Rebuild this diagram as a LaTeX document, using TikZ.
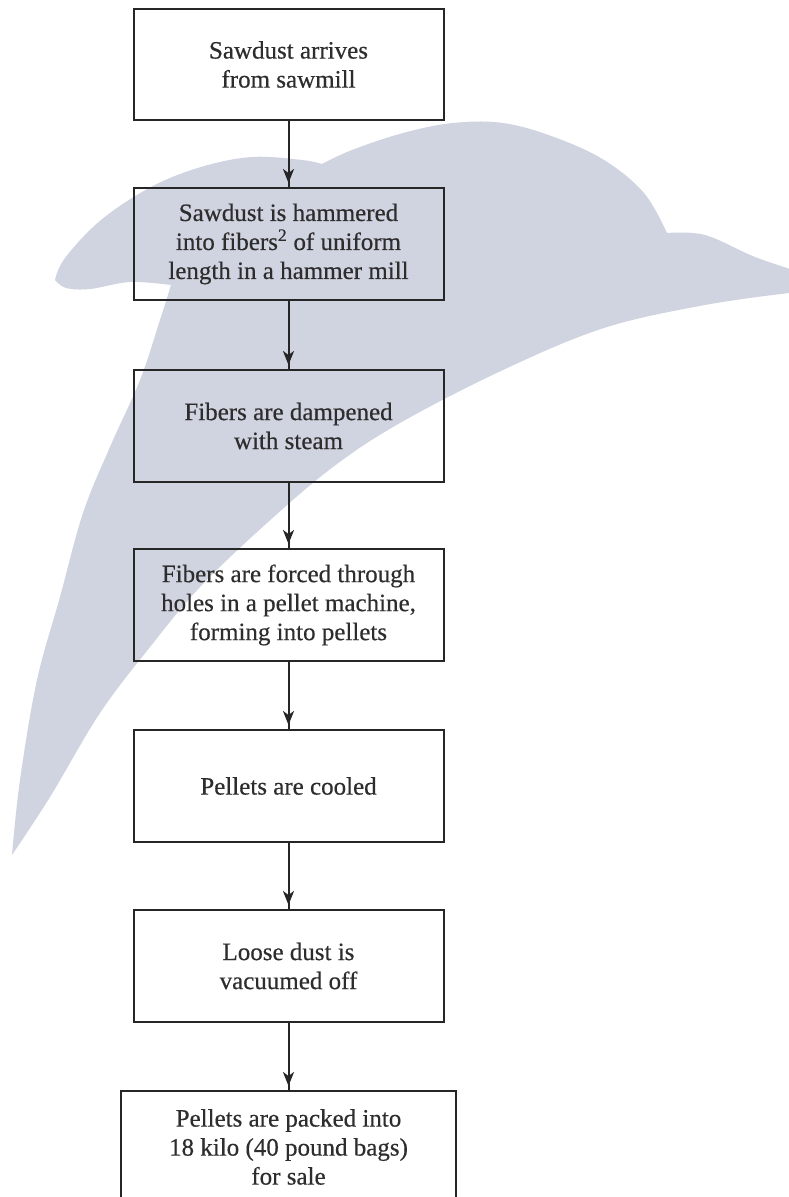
\documentclass[tikz,border=0pt]{standalone}
\usepackage{fontspec}
\setmainfont{Liberation Serif}
\newfontfamily\boxfont[FakeBold=0.4]{Liberation Serif}
\usetikzlibrary{arrows.meta}
\definecolor{wmcol}{RGB}{208,211,224}
\definecolor{inkcol}{RGB}{38,38,38}
\definecolor{txtcol}{RGB}{45,45,45}
\tikzset{
  stepbox/.style={draw=inkcol, line width=2pt, minimum width=310pt, minimum height=112pt,
    inner sep=0pt, align=center, text=txtcol, font=\boxfont\fontsize{25}{29}\selectfont},
  flow/.style={draw=inkcol, line width=2pt,
    postaction={draw=inkcol, line width=2pt, shorten >=4pt,
      -{Stealth[length=14pt,width=11pt,inset=4pt,fill=inkcol]}}},
  wm/.style={fill=wmcol, draw=none}
}
\begin{document}
\begin{tikzpicture}[x=1pt,y=-1pt]
\clip (0,0) rectangle (789,1197);
\fill[white] (0,0) rectangle (789,1197);
% watermark swoosh
\fill[wm] plot[smooth, tension=0.6] coordinates {(55,280) (65,258) (101,220) (151,187) (201,167) (252,157) (302,160) (322,164)}
  -- plot[smooth, tension=0.6] coordinates {(322,164) (352,150) (403,133) (453,123) (503,123) (554,137) (604,160) (644,193) (667,233)}
  -- plot[smooth, tension=0.6] coordinates {(667,233) (705,235) (755,257) (800,272)}
  -- (800,293)
  -- plot[smooth, tension=0.6] coordinates {(789,293) (705,305) (604,328) (503,370) (400,423) (333,467) (267,523) (200,587) (150,647) (100,713) (50,797) (12,855)}
  -- plot[smooth, tension=0.6] coordinates {(12,855) (20,780) (37,680) (60,597) (83,513) (110,447) (140,380) (160,320) (171,285)}
  -- plot[smooth, tension=0.6] coordinates {(171,285) (130,282) (90,289) (66,288) (55,280)}
  -- cycle;
% boxes
\node[stepbox, minimum height=111pt] (b1) at (288.5,64.5) {Sawdust arrives\\from sawmill};
\node[stepbox] (b2) at (288.5,244) {Sawdust is hammered\\into fibers\textsuperscript{2} of uniform\\length in a hammer mill};
\node[stepbox] (b3) at (288.5,426) {Fibers are dampened\\with steam};
\node[stepbox] (b4) at (288.5,605) {Fibers are forced through\\holes in a pellet machine,\\forming into pellets};
\node[stepbox] (b5) at (288.5,786) {Pellets are cooled};
\node[stepbox] (b6) at (288.5,966) {Loose dust is\\vacuumed off};
\node[stepbox, minimum width=335pt] (b7) at (288.5,1147) {Pellets are packed into\\18 kilo (40 pound bags)\\for sale};
% connectors
\draw[flow] (b1.south) -- (b2.north);
\draw[flow] (b2.south) -- (b3.north);
\draw[flow] (b3.south) -- (b4.north);
\draw[flow] (b4.south) -- (b5.north);
\draw[flow] (b5.south) -- (b6.north);
\draw[flow] (b6.south) -- (b7.north);
\end{tikzpicture}
\end{document}
